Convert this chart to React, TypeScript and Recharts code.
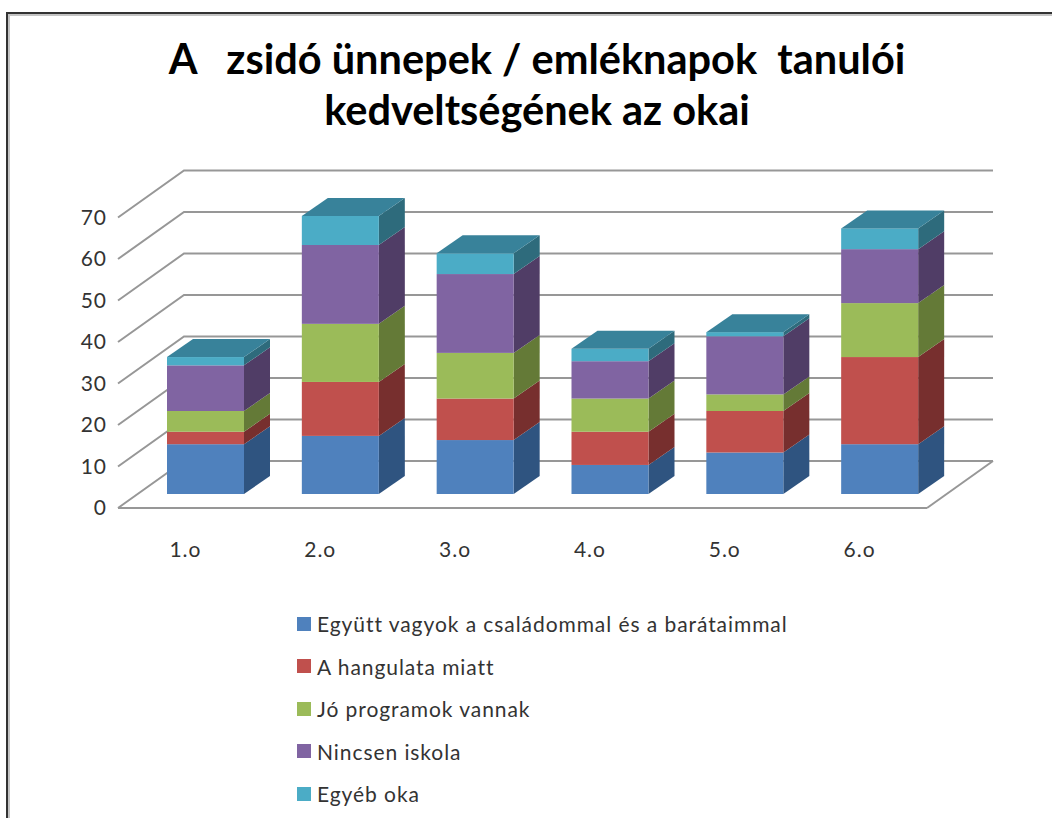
import React from "react";
import { BarChart, Bar, XAxis, YAxis, Legend, CartesianGrid } from "recharts";

const categories = ["1.o", "2.o", "3.o", "4.o", "5.o", "6.o"];
const egyutt = [12, 14, 13, 7, 10, 12];
const hangulat = [3, 13, 10, 8, 10, 21];
const programok = [5, 14, 11, 8, 4, 13];
const iskola = [11, 19, 19, 9, 14, 13];
const egyeb = [2, 7, 5, 3, 1, 5];
const yTicks = [0, 10, 20, 30, 40, 50, 60, 70];

const titleLines = ["A   zsidó ünnepek / emléknapok  tanulói", "kedveltségének az okai"];

const series = [
  { key: "egyutt", name: "Együtt vagyok a családommal és a barátaimmal", fill: "#4f81bd", side: "#2f5480" },
  { key: "hangulat", name: "A hangulata miatt", fill: "#c0504d", side: "#772f2e" },
  { key: "programok", name: "Jó programok vannak", fill: "#9bbb59", side: "#647a37" },
  { key: "iskola", name: "Nincsen iskola", fill: "#8064a2", side: "#503d66" },
  { key: "egyeb", name: "Egyéb oka", fill: "#4bacc6", side: "#2e6b7c" },
];

const data = categories.map((c, i) => ({
  cat: c,
  egyutt: egyutt[i],
  hangulat: hangulat[i],
  programok: programok[i],
  iskola: iskola[i],
  egyeb: egyeb[i],
}));

const W = 1052;
const H = 818;
const plotLeft = 118;
const plotRight = 927;
const floorY = 508;
const font = "Lato, sans-serif";
const gridColor = "#979797";

// depth of the fake 3d box and of the back wall
const wallDx = 66;
const wallDy = -47;
const barDx = 26;
const barDy = -18;
// bars sit in the middle of the floor, not on the front edge
const shiftX = 20;
const shiftY = -14;

function Block(props: any) {
  const { x, y, width, height, fill, side, isTop } = props;
  const l = x + shiftX;
  const r = l + width;
  const t = y + shiftY;
  const b = t + height;
  return (
    <g>
      <polygon
        points={`${r},${t} ${r + barDx},${t + barDy} ${r + barDx},${b + barDy} ${r},${b}`}
        fill={side}
      />
      <rect x={l} y={t} width={width} height={height} fill={fill} />
      {isTop && (
        <polygon
          points={`${l},${t} ${l + barDx},${t + barDy} ${r + barDx},${t + barDy} ${r},${t}`}
          fill="#38829a"
        />
      )}
    </g>
  );
}

function WallLine(props: any) {
  const { y1 } = props;
  const isFloor = Math.abs(y1 - floorY) < 1;
  return (
    <g>
      <polyline
        points={`${plotLeft},${y1} ${plotLeft + wallDx},${y1 + wallDy} ${W - 59},${y1 + wallDy}`}
        fill="none"
        stroke={gridColor}
        strokeWidth={2}
      />
      {isFloor && (
        <line
          x1={plotRight}
          y1={y1}
          x2={plotRight + wallDx}
          y2={y1 + wallDy}
          stroke={gridColor}
          strokeWidth={2}
        />
      )}
    </g>
  );
}

function LegendList({ payload }: any) {
  return (
    <div style={{ fontFamily: font, fontSize: 21, color: "#333", letterSpacing: 0.93 }}>
      {(payload || []).map((p: any) => (
        <div key={p.value} style={{ height: 42.5, display: "flex", alignItems: "center" }}>
          <span style={{ width: 14, height: 14, background: p.color, marginRight: 6 }} />
          {p.value}
        </div>
      ))}
    </div>
  );
}

export default function App() {
  return (
    <div style={{ position: "absolute", left: 0, top: 0, width: W, height: H, background: "#fff", overflow: "hidden" }}>
      <div
        style={{
          position: "absolute",
          left: 6,
          top: 12,
          right: 0,
          bottom: 0,
          borderTop: "2px solid #333",
          borderLeft: "2px solid #333",
          boxShadow: "inset 2px 2px 0 #c4c4c4",
        }}
      />
      <div
        style={{
          position: "absolute",
          left: 22,
          width: 1030,
          top: 33,
          textAlign: "center",
          fontFamily: font,
          fontWeight: 700,
          fontSize: 41.5,
          lineHeight: "51px",
          color: "#000",
          whiteSpace: "pre",
        }}
      >
        {titleLines.map((t) => (
          <div key={t}>{t}</div>
        ))}
      </div>
      <BarChart
        width={W}
        height={H}
        data={data}
        margin={{ top: floorY - 332, left: plotLeft - 60, right: W - plotRight, bottom: H - floorY - 60 }}
        style={{ position: "absolute", left: 0, top: 0 }}
      >
        <CartesianGrid vertical={false} horizontal={<WallLine />} horizontalValues={yTicks} />
        <YAxis
          width={60}
          domain={[0, 80]}
          ticks={yTicks}
          interval={0}
          axisLine={false}
          tickLine={false}
          tickMargin={5}
          tick={{ fontFamily: font, fontSize: 21, fill: "#333", letterSpacing: 1 }}
        />
        <XAxis
          dataKey="cat"
          height={60}
          tickLine={false}
          axisLine={{ stroke: gridColor, strokeWidth: 2 }}
          tickMargin={28}
          tick={{ fontFamily: font, fontSize: 21, fill: "#333", letterSpacing: 1 }}
        />
        {series.map((s, i) => (
          <Bar
            key={s.key}
            dataKey={s.key}
            name={s.name}
            stackId="a"
            fill={s.fill}
            barSize={77}
            isAnimationActive={false}
            shape={(p: any) => <Block {...p} side={s.side} isTop={i === series.length - 1} />}
          />
        ))}
        <Legend
          content={<LegendList />}
          layout="vertical"
          align="center"
          verticalAlign="middle"
          itemSorter={null}
          wrapperStyle={{ position: "absolute", left: 297, top: 602.5, width: 600, bottom: "auto", right: "auto" }}
        />
      </BarChart>
    </div>
  );
}
